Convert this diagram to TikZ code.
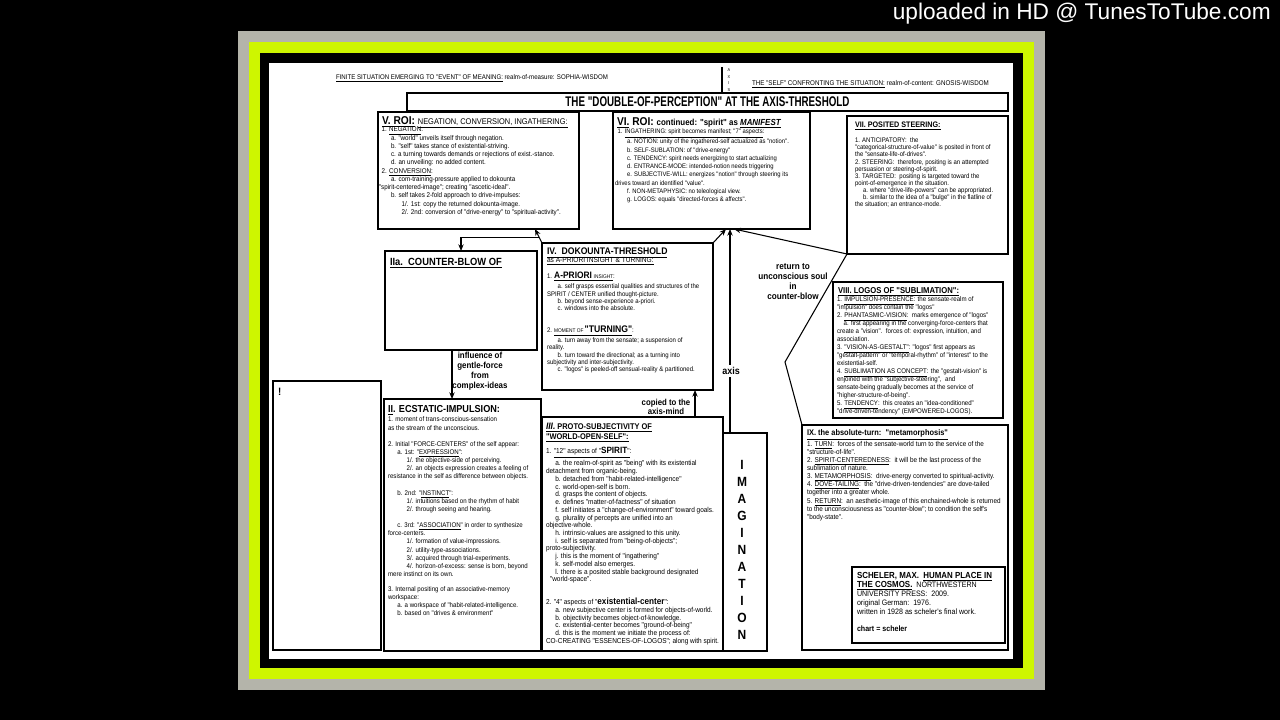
\documentclass[tikz,border=0pt]{standalone}
\usepackage{fontspec}
\setmainfont{Liberation Sans}
\newfontfamily\cf[FakeStretch=0.9]{Liberation Sans}
\newfontfamily\nf[FakeStretch=0.7]{Liberation Sans}
\usetikzlibrary{arrows.meta,calc}
\definecolor{framegrey}{RGB}{180,180,170}
\definecolor{framelime}{RGB}{206,246,0}
\newcommand{\fz}[2]{\cf\fontsize{#1}{#2}\selectfont}
\newcommand{\mkbox}[6][]{\node[boxst,#1,minimum width={(#5-#3)*0.75pt},minimum height={(#6-#4)*0.75pt}] (#2) at ({(#3+#5)/2},{(#4+#6)/2}) {};}
\tikzset{
  boxst/.style={draw=black, line width=1.1pt, fill=white, inner sep=0pt, outer sep=0pt},
  thickbox/.style={line width=1.6pt},
  body/.style={anchor=north west, inner sep=0pt, outer sep=0pt, align=left},
  ttl/.style={anchor=west, inner sep=0pt, outer sep=0pt, align=left},
  lbl/.style={align=center, inner sep=0.5pt},
  conn/.style={draw=black, line width=0.8pt},
  arr/.style={conn, -{Stealth[length=5pt,width=4pt]}}
}
\begin{document}
\begin{tikzpicture}[x=0.75pt,y=-0.75pt]
\useasboundingbox (0,0) rectangle (1280,720);
\fill[black] (0,0) rectangle (1280,720);
% frame
\fill[framegrey] (238,31) rectangle (1045,690);
\fill[framelime] (249,42) rectangle (1034,679);
\fill[black] (260,53) rectangle (1023,668);
\fill[white] (269,63) rectangle (1013,659);
\node[anchor=east, inner sep=0pt, text=white, font=\fontsize{17}{18}\selectfont] (upl) at (1271,14) {uploaded in HD @ TunesToTube.com};

% headers
\node[ttl, font=\fz{5.1}{5}] (hleft) at (336,78) {\underline{FINITE SITUATION EMERGING TO "EVENT" OF MEANING:} realm-of-measure: SOPHIA-WISDOM};
\node[ttl, font=\fz{5.2}{5}] (hright) at (752,84) {\underline{THE "SELF" CONFRONTING THE SITUATION:} realm-of-content: GNOSIS-WISDOM};
\node[lbl, font=\fz{3.2}{4.9}] (axl) at (729,80) {A\\X\\I\\S};

% boxes
\node[boxst, minimum width={(1008-407)*0.75pt}, minimum height={(111-93)*0.75pt}, font=\nf\bfseries\fontsize{10.5}{11}\selectfont] (title) at ({(407+1008)/2},{(93+111)/2}) {THE "DOUBLE-OF-PERCEPTION" AT THE AXIS-THRESHOLD};
\coordinate (axtop) at (722,67);
\draw[conn] (axtop) -- (axtop |- title.north);

\mkbox{V}{378}{112}{579}{229}
\mkbox{VI}{613}{112}{810}{229}
\mkbox[thickbox]{VII}{847}{116}{1008}{254}
\mkbox{IIa}{385}{251}{537}{350}
\mkbox{IV}{542}{243}{713}{390}
\mkbox[thickbox]{VIII}{833}{282}{1003}{418}
\mkbox{EX}{273}{381}{381}{650}
\mkbox{II}{384}{399}{541}{651}
\mkbox{III}{542}{417}{723}{651}
\mkbox{IMAG}{723}{433}{767}{651}
\mkbox{IX}{802}{425}{1008}{650}
\mkbox[thickbox]{SCH}{852}{567}{1005}{643}

% V
\node[ttl, font=\fz{8.5}{9}\bfseries] (Vt) at (382,122) {\underline{V. ROI:}\ {\mdseries\fontsize{6.2}{6}\selectfont\underline{NEGATION, CONVERSION, INGATHERING:}}};
\node[body, font=\fz{5.2}{6.2}] (Vb) at (379,127) {%
\hspace*{2pt}1. \underline{NEGATION}:\\
\hspace*{9pt}a. "world" unveils itself through negation.\\
\hspace*{9pt}b. "self" takes stance of existential-striving.\\
\hspace*{9pt}c. a turning towards demands or rejections of exist.-stance.\\
\hspace*{9pt}d. an unveiling: no added content.\\
\hspace*{2pt}2. \underline{CONVERSION}:\\
\hspace*{9pt}a. com-training-pressure applied to dokounta\\
"spirit-centered-image"; creating "ascetic-ideal".\\
\hspace*{9pt}b. self takes 2-fold approach to drive-impulses:\\
\hspace*{17pt}1/. 1st: copy the returned dokounta-image.\\
\hspace*{17pt}2/. 2nd: conversion of "drive-energy" to "spiritual-activity".};

% VI
\node[ttl, font=\fz{8.5}{9}\bfseries] (VIt) at (617,123) {\underline{VI.} ROI:\ {\fontsize{6.6}{7}\selectfont continued: "spirit" as \underline{\itshape MANIFEST}}};
\node[body, font=\fz{4.9}{6.2}] (VIb) at (615,129) {%
\hspace*{2pt}1. \underline{INGATHERING: spirit becomes manifest; "7" aspects}:\\
\hspace*{9pt}a. NOTION: unity of the ingathered-self actualized as "notion".\\
\hspace*{9pt}b. SELF-SUBLATION: of "drive-energy"\\
\hspace*{9pt}c. TENDENCY: spirit needs energizing to start actualizing\\
\hspace*{9pt}d. ENTRANCE-MODE: intended-notion needs triggering\\
\hspace*{9pt}e. SUBJECTIVE-WILL: energizes "notion" through steering its\\
drives toward an identified "value".\\
\hspace*{9pt}f. NON-METAPHYSIC: no teleological view.\\
\hspace*{9pt}g. LOGOS: equals "directed-forces \& affects".};

% VII
\node[ttl, font=\fz{6}{6}\bfseries] (VIIt) at (855,126) {\underline{VII. POSITED STEERING:}};
\node[body, font=\fz{5}{5.3}] (VIIb) at (855,138) {%
1. ANTICIPATORY:\ \ the\\
"categorical-structure-of-value" is posited in front of\\
the "sensate-life-of-drives".\\
2. STEERING:\ \ therefore, positing is an attempted\\
persuasion or steering-of-spirit.\\
3. TARGETED:\ \ positing is targeted toward the\\
point-of-emergence in the situation.\\
\hspace*{6pt}a. where "drive-life-powers" can be appropriated.\\
\hspace*{6pt}b. similar to the idea of a "bulge" in the flatline of\\
the situation; an entrance-mode.};

% IIa
\node[ttl, font=\fz{7.8}{8}\bfseries] (IIat) at (390,263) {\underline{IIa.\ \ COUNTER-BLOW OF}};

% IV
\node[ttl, font=\fz{7.2}{8}\bfseries] (IVt) at (547,253) {\underline{IV.\ \ DOKOUNTA-THRESHOLD}};
\node[ttl, font=\fz{5.5}{5}] (IVs) at (547,261) {\underline{as A-PRIORI INSIGHT \& TURNING:}};
\node[body, font=\fz{5}{5.5}] (IVb) at (547,271.5) {%
1. \underline{{\bfseries\fontsize{7}{6}\selectfont A-PRIORI}\ {\fontsize{4}{5}\selectfont INSIGHT}}:\\[1.5pt]
\hspace*{8pt}a. self grasps essential qualities and structures of the\\
SPIRIT / CENTER unified thought-picture.\\
\hspace*{8pt}b. beyond sense-experience a-priori.\\
\hspace*{8pt}c. windows into the absolute.\\[11pt]
2. \underline{{\fontsize{4}{5}\selectfont MOMENT OF}\,{\bfseries\fontsize{7.2}{6}\selectfont "TURNING"}}:\\[0.5pt]
\hspace*{8pt}a. turn away from the sensate; a suspension of\\
reality.\\
\hspace*{8pt}b. turn toward the directional; as a turning into\\
subjectivity and inter-subjectivity.\\
\hspace*{8pt}c. "logos" is peeled-off sensual-reality \& partitioned.};

% VIII
\node[ttl, font=\fz{6.4}{6}\bfseries] (VIIIt) at (838,292) {\underline{VIII. LOGOS OF "SUBLIMATION":}};
\node[body, font=\fz{5.1}{6}] (VIIIb) at (837,297) {%
1. \underline{IMPULSION-PRESENCE}: the sensate-realm of\\
"impulsion" does contain the "logos"\\
2. \underline{PHANTASMIC-VISION}:\ \ marks emergence of "logos"\\
\hspace*{5pt}a. first appearing in the converging-force-centers that\\
create a "vision".\ \ forces of: expression, intuition, and\\
association.\\
3. \underline{"VISION-AS-GESTALT"}: "logos" first appears as\\
"gestalt-pattern" or "temporal-rhythm" of "interest" to the\\
existential-self.\\
4. \underline{SUBLIMATION AS CONCEPT}: the "gestalt-vision" is\\
enjoined with the "subjective-steering",\ \ and\\
sensate-being gradually becomes at the service of\\
"higher-structure-of-being".\\
5. \underline{TENDENCY}:\ \ this creates an "idea-conditioned"\\
"drive-driven-tendency" (EMPOWERED-LOGOS).};

% II
\node[ttl, font=\fz{7.6}{8}\bfseries] (IIt) at (388,410) {\underline{II}. ECSTATIC-IMPULSION:};
\node[body, font=\fz{5.1}{6.1}] (IIb) at (388,417) {%
1. moment of trans-conscious-sensation\\
as the stream of the unconscious.\\[6.1pt]
2. Initial "FORCE-CENTERS" of the self appear:\\
\hspace*{7pt}a. 1st: "\underline{EXPRESSION}":\\
\hspace*{14pt}1/. the objective-side of perceiving.\\
\hspace*{14pt}2/. an objects expression creates a feeling of\\
resistance in the self as difference between objects.\\[6.1pt]
\hspace*{7pt}b. 2nd: "\underline{INSTINCT}":\\
\hspace*{14pt}1/. intuitions based on the rhythm of habit\\
\hspace*{14pt}2/. through seeing and hearing.\\[6.1pt]
\hspace*{7pt}c. 3rd: "\underline{ASSOCIATION}" in order to synthesize\\
force-centers.\\
\hspace*{14pt}1/. formation of value-impressions.\\
\hspace*{14pt}2/. utility-type-associations.\\
\hspace*{14pt}3/. acquired through trial-experiments.\\
\hspace*{14pt}4/. horizon-of-excess: sense is born, beyond\\
mere instinct on its own.\\[5pt]
3. Internal positing of an associative-memory\\
workspace:\\
\hspace*{7pt}a. a workspace of "habit-related-intelligence.\\
\hspace*{7pt}b. based on "drives \& environment"};

% III
\node[body, font=\fz{6.2}{7.5}\bfseries] (IIIt) at (546,423) {\underline{{\itshape\fontsize{7}{7}\selectfont III.} PROTO-SUBJECTIVITY OF}\\ \underline{"WORLD-OPEN-SELF":}};
\node[body, font=\fz{5.4}{5.8}] (IIIb) at (546,447.5) {%
1. \underline{"12" aspects of "{\bfseries\fontsize{6.8}{6}\selectfont SPIRIT}"}:\\[1pt]
\hspace*{7pt}a. the realm-of-spirit as "being" with its existential\\
detachment from organic-being.\\
\hspace*{7pt}b. detached from "habit-related-intelligence"\\
\hspace*{7pt}c. world-open-self is born.\\
\hspace*{7pt}d. grasps the content of objects.\\
\hspace*{7pt}e. defines "matter-of-factness" of situation\\
\hspace*{7pt}f. self initiates a "change-of-environment" toward goals.\\
\hspace*{7pt}g. plurality of percepts are unified into an\\
objective-whole.\\
\hspace*{7pt}h. intrinsic-values are assigned to this unity.\\
\hspace*{7pt}i. self is separated from "being-of-objects";\\
proto-subjectivity.\\
\hspace*{7pt}j. this is the moment of "ingathering"\\
\hspace*{7pt}k. self-model also emerges.\\
\hspace*{7pt}l. there is a posited stable background designated\\
\hspace*{3pt}"world-space".\\[10pt]
2. "4" aspects of "{\bfseries\fontsize{6.8}{6}\selectfont existential-center}":\\
\hspace*{7pt}a. new subjective center is formed for objects-of-world.\\
\hspace*{7pt}b. objectivity becomes object-of-knowledge.\\
\hspace*{7pt}c. existential-center becomes "ground-of-being"\\
\hspace*{7pt}d. this is the moment we initiate the process of:\\
CO-CREATING "ESSENCES-OF-LOGOS"; along with spirit.};

% IMAGINATION
\node[lbl, anchor=north, font=\fz{10}{12.75}\bfseries] (IMAGt) at (742,459) {I\\M\\A\\G\\I\\N\\A\\T\\I\\O\\N};

% IX
\node[ttl, font=\fz{6.2}{7}\bfseries] (IXt) at (807,435) {\underline{IX. the absolute-turn:\ \ "metamorphosis"}};
\node[body, font=\fz{5.3}{6.1}] (IXb) at (807,441) {%
1. \underline{TURN}:\ \ forces of the sensate-world turn to the service of the\\
"structure-of-life".\\
2. \underline{SPIRIT-CENTEREDNESS}:\ \ it will be the last process of the\\
sublimation of nature.\\
3. \underline{METAMORPHOSIS}:\ \ drive-energy converted to spiritual-activity.\\
4. \underline{DOVE-TAILING}:\ \ the "drive-driven-tendencies" are dove-tailed\\
together into a greater whole.\\
5. \underline{RETURN}:\ \ an aesthetic-image of this enchained-whole is returned\\
to the unconsciousness as "counter-blow"; to condition the self's\\
"body-state".};

% Scheler
\node[body, font=\fz{5.9}{6.7}] (SCHt) at (857,572.5) {%
{\bfseries\fontsize{6.6}{6.7}\selectfont SCHELER, MAX.\ \ \underline{HUMAN PLACE IN}}\\
{\bfseries\fontsize{6.6}{6.7}\selectfont\underline{THE COSMOS.}}\ \ NORTHWESTERN\\
UNIVERSITY PRESS:\ \ 2009.\\
original German:\ \ 1976.\\
written in 1928 as scheler's final work.\\[6pt]
{\bfseries chart = scheler}};

% exclamation box
\node[ttl, font=\fz{8}{8}\bfseries] (EXt) at (278,392) {!};

% connectors
\coordinate (Vhit) at ($(V.south west)+(157,0)$);
\coordinate (vihub) at ($(VI.south west)+(117,0)$);
\coordinate (bend) at (785,362);
\coordinate (br) at ($(IV.north west)!0.36!(Vhit)$);
\coordinate (inf) at ($(IIa.south west)+(67,0)$);
\coordinate (cp) at ($(III.north west)+(153,0)$);

\draw[arr] (IV.north west) -- (Vhit);
\draw[arr] (br) -- (IIa.north |- br) -- (IIa.north);
\draw[arr] (IV.north east) -- ($(VI.south west)+(113,0)$);
\draw[arr] ($(IMAG.north west)+(7,0)$) -- (vihub);
\draw[arr] (VII.south west) -- ($(VI.south west)+(121,0)$);
\draw[conn] (VII.south west) -- (bend) -- (IX.north west);
\draw[arr] (inf) -- (inf |- II.north);
\draw[arr] (cp) -- (cp |- IV.south);

% labels
\node[lbl, font=\fz{6.6}{7.5}\bfseries] (infl) at (480,371) {influence of\\gentle-force\\from\\complex-ideas};
\node[lbl, font=\fz{6.8}{7.5}\bfseries] (retl) at (793,282) {return to\\unconscious soul\\in\\counter-blow};
\node[lbl, font=\fz{6.5}{6}\bfseries] (cpl) at (666,407) {copied to the\\axis-mind};
\node[lbl, fill=white, inner sep=1.5pt, font=\fz{7.5}{8}\bfseries] (axisl) at (731,371) {axis};
\end{tikzpicture}
\end{document}
